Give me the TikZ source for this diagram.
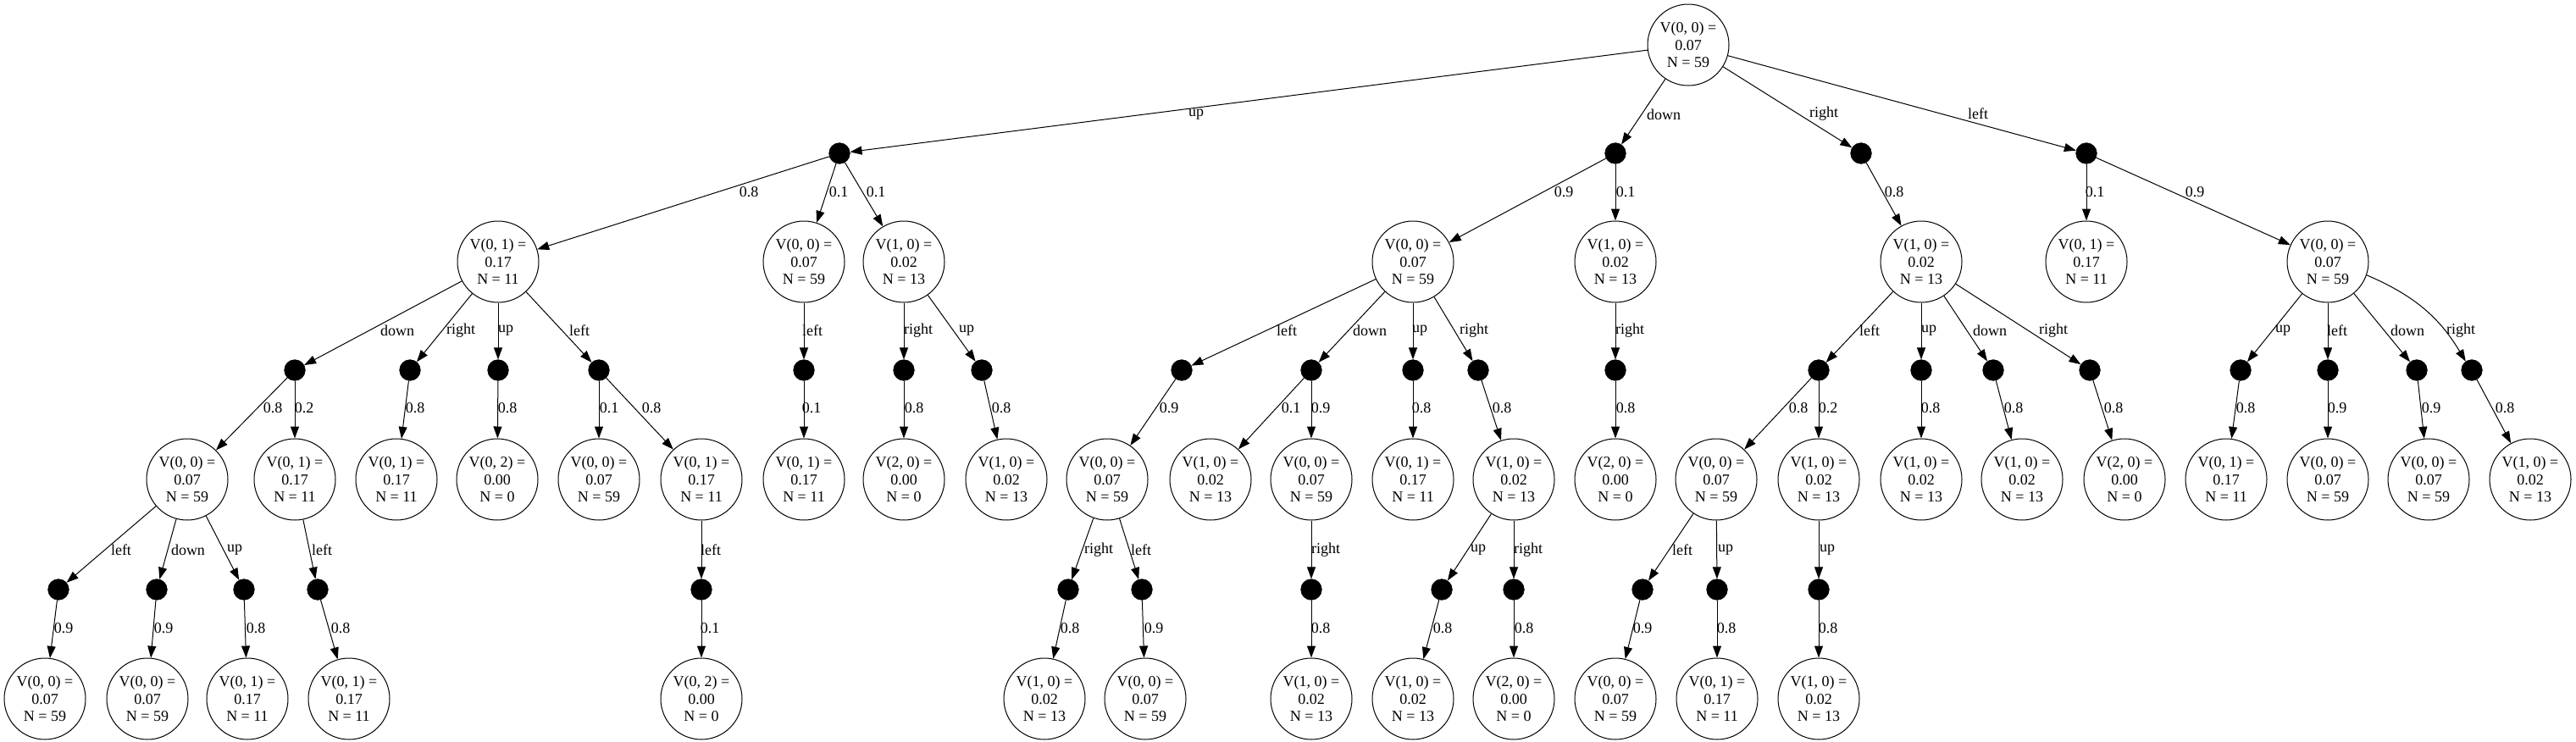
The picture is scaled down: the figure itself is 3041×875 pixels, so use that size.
\documentclass[tikz,border=0pt]{standalone}
\usepackage{fontspec}
\setmainfont{Liberation Serif}
\usetikzlibrary{arrows.meta,shapes.geometric}
\tikzset{
  stn/.style={draw,line width=0.75pt,circle,minimum size=72pt,inner sep=0pt,align=center,font=\fontsize{13.5}{15.5}\selectfont},
  chn/.style={circle,fill=black,draw=black,minimum size=18.5pt,inner sep=0pt},
  arr/.style={line width=0.75pt,-{Triangle[length=10.5pt,width=7.5pt]}},
  lab/.style={inner sep=0pt,font=\fontsize{13.5}{15.5}\selectfont}
}
\newcommand\sn[6]{\node[stn] (#1) at (#2,#3) {V(#4) =\\#5\\N = #6};}
\newcommand\cn[3]{\node[chn] (#1) at (#2,#3) {};}
\newcommand\ed[5]{\draw[arr] (#1) -- (#2) node[lab] at (#4,#5) {#3};}
\begin{document}
\begin{tikzpicture}[x=0.75pt,y=-0.75pt]
\useasboundingbox (0,0) rectangle (3041,875);
% level 0
\sn{r}{1993}{53}{0, 0}{0.07}{59}
% level 1
\cn{cu}{991}{181}\cn{cd}{1907}{181}\cn{cr}{2197}{181}\cn{cl}{2463}{181}
% level 2
\sn{a1}{588}{309}{0, 1}{0.17}{11}
\sn{a2}{949}{309}{0, 0}{0.07}{59}
\sn{a3}{1067}{309}{1, 0}{0.02}{13}
\sn{b1}{1668}{309}{0, 0}{0.07}{59}
\sn{b2}{1907}{309}{1, 0}{0.02}{13}
\sn{c1}{2268}{309}{1, 0}{0.02}{13}
\sn{d1}{2463}{309}{0, 1}{0.17}{11}
\sn{d2}{2748}{309}{0, 0}{0.07}{59}
% level 3
\cn{a1d}{348}{437}\cn{a1r}{484}{437}\cn{a1u}{588}{437}\cn{a1l}{707}{437}
\cn{a2l}{949}{437}
\cn{a3r}{1067}{437}\cn{a3u}{1159}{437}
\cn{b1l}{1395}{437}\cn{b1d}{1548}{437}\cn{b1u}{1668}{437}\cn{b1r}{1745}{437}
\cn{b2r}{1907}{437}
\cn{c1l}{2147}{437}\cn{c1u}{2268}{437}\cn{c1d}{2353}{437}\cn{c1r}{2467}{437}
\cn{d2u}{2645}{437}\cn{d2l}{2748}{437}\cn{d2d}{2853}{437}\cn{d2r}{2918}{437}
% level 4
\sn{s1}{221}{566}{0, 0}{0.07}{59}
\sn{s2}{348}{566}{0, 1}{0.17}{11}
\sn{s3}{468}{566}{0, 1}{0.17}{11}
\sn{s4}{587}{566}{0, 2}{0.00}{0}
\sn{s5}{707}{566}{0, 0}{0.07}{59}
\sn{s6}{828}{566}{0, 1}{0.17}{11}
\sn{s7}{949}{566}{0, 1}{0.17}{11}
\sn{s8}{1067}{566}{2, 0}{0.00}{0}
\sn{s9}{1188}{566}{1, 0}{0.02}{13}
\sn{s10}{1307}{566}{0, 0}{0.07}{59}
\sn{s11}{1429}{566}{1, 0}{0.02}{13}
\sn{s12}{1548}{566}{0, 0}{0.07}{59}
\sn{s13}{1668}{566}{0, 1}{0.17}{11}
\sn{s14}{1787}{566}{1, 0}{0.02}{13}
\sn{s15}{1907}{566}{2, 0}{0.00}{0}
\sn{s16}{2026}{566}{0, 0}{0.07}{59}
\sn{s17}{2147}{566}{1, 0}{0.02}{13}
\sn{s18}{2268}{566}{1, 0}{0.02}{13}
\sn{s19}{2387}{566}{1, 0}{0.02}{13}
\sn{s20}{2508}{566}{2, 0}{0.00}{0}
\sn{s21}{2628}{566}{0, 1}{0.17}{11}
\sn{s22}{2748}{566}{0, 0}{0.07}{59}
\sn{s23}{2867}{566}{0, 0}{0.07}{59}
\sn{s24}{2987}{566}{1, 0}{0.02}{13}
% level 5
\cn{s1l}{69}{696}\cn{s1d}{185}{696}\cn{s1u}{288}{696}
\cn{s2l}{375}{696}
\cn{s6l}{828}{696}
\cn{s10r}{1261}{696}\cn{s10l}{1348}{696}
\cn{s12r}{1548}{696}
\cn{s14u}{1702}{696}\cn{s14r}{1787}{696}
\cn{s16l}{1939}{696}\cn{s16u}{2027}{696}
\cn{s17u}{2147}{696}
% level 6
\sn{t1}{53}{825}{0, 0}{0.07}{59}
\sn{t2}{174}{825}{0, 0}{0.07}{59}
\sn{t3}{292}{825}{0, 1}{0.17}{11}
\sn{t4}{412}{825}{0, 1}{0.17}{11}
\sn{t5}{828}{825}{0, 2}{0.00}{0}
\sn{t6}{1233}{825}{1, 0}{0.02}{13}
\sn{t7}{1352}{825}{0, 0}{0.07}{59}
\sn{t8}{1548}{825}{1, 0}{0.02}{13}
\sn{t9}{1668}{825}{1, 0}{0.02}{13}
\sn{t10}{1787}{825}{2, 0}{0.00}{0}
\sn{t11}{1907}{825}{0, 0}{0.07}{59}
\sn{t12}{2027}{825}{0, 1}{0.17}{11}
\sn{t13}{2147}{825}{1, 0}{0.02}{13}
% edges level 0-1
\ed{r}{cu}{up}{1412}{135}
\ed{r}{cd}{down}{1964}{135}
\ed{r}{cr}{right}{2153}{134}
\ed{r}{cl}{left}{2335}{134}
% edges level 1-2
\ed{cu}{a1}{0.8}{884}{227}
\ed{cu}{a2}{0.1}{990}{227}
\ed{cu}{a3}{0.1}{1034}{227}
\ed{cd}{b1}{0.9}{1846}{227}
\ed{cd}{b2}{0.1}{1919}{227}
\ed{cr}{c1}{0.8}{2236}{227}
\ed{cl}{d1}{0.1}{2473}{227}
\ed{cl}{d2}{0.9}{2591}{227}
% edges level 2-3
\ed{a1}{a1d}{down}{469}{390}
\ed{a1}{a1r}{right}{544}{390}
\ed{a1}{a1u}{up}{597}{390}
\ed{a1}{a1l}{left}{684}{390}
\ed{a2}{a2l}{left}{959}{390}
\ed{a3}{a3r}{right}{1084}{390}
\ed{a3}{a3u}{up}{1141}{390}
\ed{b1}{b1l}{left}{1519}{390}
\ed{b1}{b1d}{down}{1617}{390}
\ed{b1}{b1u}{up}{1676}{390}
\ed{b1}{b1r}{right}{1740}{390}
\ed{b2}{b2r}{right}{1924}{390}
\ed{c1}{c1l}{left}{2207}{390}
\ed{c1}{c1u}{up}{2277}{390}
\ed{c1}{c1d}{down}{2349}{390}
\ed{c1}{c1r}{right}{2424}{390}
\ed{d2}{d2u}{up}{2695}{390}
\ed{d2}{d2l}{left}{2759}{390}
\ed{d2}{d2d}{down}{2842}{390}
\draw[arr] (d2) to[bend left=18] (d2r);
\node[lab] (lbdr) at (2905,390) {right};
% edges level 3-4
\ed{a1d}{s1}{0.8}{322}{482}
\ed{a1d}{s2}{0.2}{359}{482}
\ed{a1r}{s3}{0.8}{490}{482}
\ed{a1u}{s4}{0.8}{599}{482}
\ed{a1l}{s5}{0.1}{719}{482}
\ed{a1l}{s6}{0.8}{769}{482}
\ed{a2l}{s7}{0.1}{958}{482}
\ed{a3r}{s8}{0.8}{1079}{482}
\ed{a3u}{s9}{0.8}{1182}{482}
\ed{b1l}{s10}{0.9}{1380}{482}
\ed{b1d}{s11}{0.1}{1524}{482}
\ed{b1d}{s12}{0.9}{1559}{482}
\ed{b1u}{s13}{0.8}{1678}{482}
\ed{b1r}{s14}{0.8}{1773}{482}
\ed{b2r}{s15}{0.8}{1919}{482}
\ed{c1l}{s16}{0.8}{2123}{482}
\ed{c1l}{s17}{0.2}{2158}{482}
\ed{c1u}{s18}{0.8}{2279}{482}
\ed{c1d}{s19}{0.8}{2377}{482}
\ed{c1r}{s20}{0.8}{2495}{482}
\ed{d2u}{s21}{0.8}{2651}{482}
\ed{d2l}{s22}{0.9}{2759}{482}
\ed{d2d}{s23}{0.9}{2870}{482}
\ed{d2r}{s24}{0.8}{2957}{482}
% edges level 4-5
\ed{s1}{s1l}{left}{143}{649}
\ed{s1}{s1d}{down}{222}{649}
\ed{s1}{s1u}{up}{277}{649}
\ed{s2}{s2l}{left}{380}{649}
\ed{s6}{s6l}{left}{839}{649}
\ed{s10}{s10r}{right}{1297}{649}
\ed{s10}{s10l}{left}{1347}{649}
\ed{s12}{s12r}{right}{1565}{649}
\ed{s14}{s14u}{up}{1745}{649}
\ed{s14}{s14r}{right}{1804}{649}
\ed{s16}{s16l}{left}{1986}{649}
\ed{s16}{s16u}{up}{2037}{649}
\ed{s17}{s17u}{up}{2157}{649}
% edges level 5-6
\ed{s1l}{t1}{0.9}{75}{742}
\ed{s1d}{t2}{0.9}{193}{742}
\ed{s1u}{t3}{0.8}{302}{742}
\ed{s2l}{t4}{0.8}{402}{742}
\ed{s6l}{t5}{0.1}{838}{742}
\ed{s10r}{t6}{0.8}{1263}{742}
\ed{s10l}{t7}{0.9}{1362}{742}
\ed{s12r}{t8}{0.8}{1559}{742}
\ed{s14u}{t9}{0.8}{1703}{742}
\ed{s14r}{t10}{0.8}{1799}{742}
\ed{s16l}{t11}{0.9}{1939}{742}
\ed{s16u}{t12}{0.8}{2038}{742}
\ed{s17u}{t13}{0.8}{2158}{742}
\end{tikzpicture}
\end{document}
